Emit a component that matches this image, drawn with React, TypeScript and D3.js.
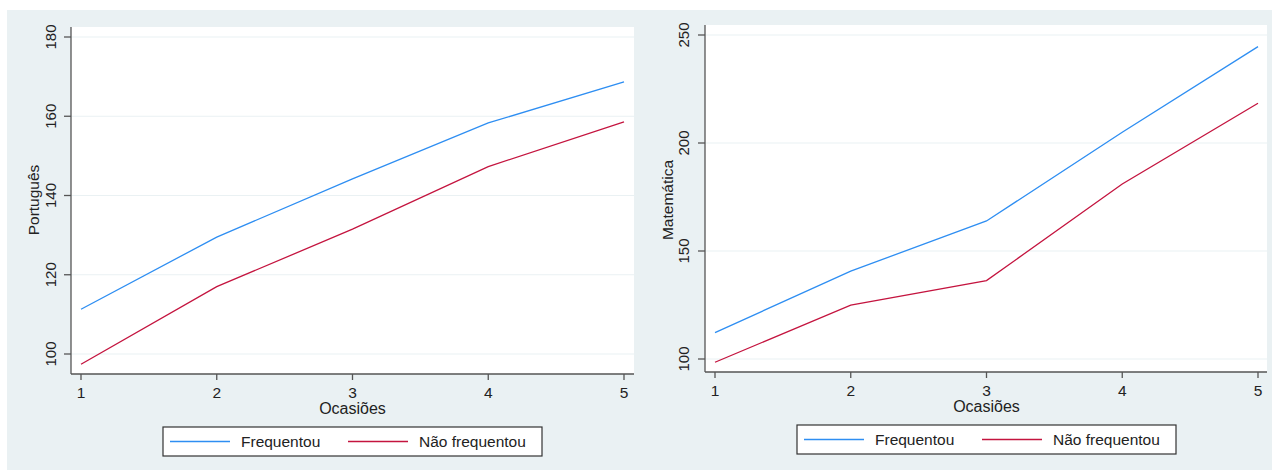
import React, { useRef, useEffect } from "react";
import * as d3 from "d3";

const ocasioes = [1, 2, 3, 4, 5];
const seriesNames = ["Frequentou", "Não frequentou"];
const portFreq = [111.3, 129.5, 144.2, 158.3, 168.7];
const portNao = [97.4, 117.0, 131.5, 147.3, 158.6];
const matFreq = [112.2, 140.7, 163.9, 205.0, 244.6];
const matNao = [98.5, 124.9, 136.3, 181.0, 218.4];
const portTicks = [100, 120, 140, 160, 180];
const matTicks = [100, 150, 200, 250];

const colors = ["#2e8ef2", "#c4143f"];
const bg = "#eaf1f3";
const font = "'Liberation Sans', Arial, sans-serif";

const panels = [
  {
    label: "Português",
    series: [portFreq, portNao],
    ticks: portTicks,
    yDomain: [100, 180],
    yRange: [354, 37],
    xRange: [81, 624],
    plot: { x0: 71, x1: 634, y0: 27, y1: 374 },
    labelX: 34,
    tickLabelX: 51,
    legend: { x0: 163, x1: 542, y0: 427, y1: 456 },
  },
  {
    label: "Matemática",
    series: [matFreq, matNao],
    ticks: matTicks,
    yDomain: [100, 250],
    yRange: [359, 35],
    xRange: [715, 1258],
    plot: { x0: 705, x1: 1267, y0: 25, y1: 372 },
    labelX: 668,
    tickLabelX: 684,
    legend: { x0: 797, x1: 1176, y0: 425, y1: 454 },
  },
];

export default function App() {
  const ref = useRef<SVGSVGElement | null>(null);

  useEffect(() => {
    const svg = d3.select(ref.current);
    svg.selectAll("*").remove();

    svg
      .append("rect")
      .attr("x", 7)
      .attr("y", 10)
      .attr("width", 1265)
      .attr("height", 460)
      .attr("fill", bg);

    panels.forEach((p) => {
      const x = d3.scaleLinear().domain([1, 5]).range(p.xRange);
      const y = d3.scaleLinear().domain(p.yDomain).range(p.yRange);
      const g = svg.append("g").style("font-family", font);

      // plot area
      g.append("rect")
        .attr("x", p.plot.x0)
        .attr("y", p.plot.y0)
        .attr("width", p.plot.x1 - p.plot.x0)
        .attr("height", p.plot.y1 - p.plot.y0)
        .attr("fill", "#fff");

      // gridlines
      g.selectAll(".grid")
        .data(p.ticks)
        .join("line")
        .attr("x1", p.plot.x0)
        .attr("x2", p.plot.x1)
        .attr("y1", (d) => y(d))
        .attr("y2", (d) => y(d))
        .attr("stroke", bg)
        .attr("stroke-width", 1.2);

      // y axis
      g.append("line")
        .attr("x1", p.plot.x0)
        .attr("x2", p.plot.x0)
        .attr("y1", p.plot.y0)
        .attr("y2", p.plot.y1)
        .attr("stroke", "#555")
        .attr("stroke-width", 1.3);
      const yt = g.selectAll(".yt").data(p.ticks).join("g")
        .attr("transform", (d) => `translate(0,${y(d)})`);
      yt.append("line")
        .attr("x1", p.plot.x0 - 7)
        .attr("x2", p.plot.x0)
        .attr("stroke", "#555")
        .attr("stroke-width", 1.3);
      yt.append("text")
        .attr("transform", `translate(${p.tickLabelX + 5},0) rotate(-90)`)
        .attr("text-anchor", "middle")
        .attr("font-size", 15)
        .attr("fill", "#222")
        .text((d) => d);

      // x axis
      g.append("line")
        .attr("x1", p.plot.x0)
        .attr("x2", p.plot.x1)
        .attr("y1", p.plot.y1)
        .attr("y2", p.plot.y1)
        .attr("stroke", "#555")
        .attr("stroke-width", 1.3);
      const xt = g.selectAll(".xt").data(ocasioes).join("g")
        .attr("transform", (d) => `translate(${x(d)},${p.plot.y1})`);
      xt.append("line")
        .attr("y2", 6)
        .attr("stroke", "#555")
        .attr("stroke-width", 1.3);
      xt.append("text")
        .attr("y", 24)
        .attr("text-anchor", "middle")
        .attr("font-size", 15.5)
        .attr("fill", "#222")
        .text((d) => d);

      g.append("text")
        .attr("x", x(3))
        .attr("y", p.plot.y1 + 40)
        .attr("text-anchor", "middle")
        .attr("font-size", 16)
        .attr("fill", "#222")
        .text("Ocasiões");

      g.append("text")
        .attr("transform", `translate(${p.labelX + 5},200) rotate(-90)`)
        .attr("text-anchor", "middle")
        .attr("font-size", 15.5)
        .attr("fill", "#222")
        .text(p.label);

      // lines
      const line = d3
        .line<number>()
        .x((_, i) => x(ocasioes[i]))
        .y((d) => y(d));
      p.series.forEach((s, i) => {
        g.append("path")
          .attr("d", line(s))
          .attr("fill", "none")
          .attr("stroke", colors[i])
          .attr("stroke-width", 1.3);
      });

      // legend
      const L = p.legend;
      g.append("rect")
        .attr("x", L.x0)
        .attr("y", L.y0)
        .attr("width", L.x1 - L.x0)
        .attr("height", L.y1 - L.y0)
        .attr("fill", "#fff")
        .attr("stroke", "#333")
        .attr("stroke-width", 1.2);
      const cy = (L.y0 + L.y1) / 2;
      const offsets = [7, 185];
      seriesNames.forEach((name, i) => {
        const lx = L.x0 + offsets[i];
        g.append("line")
          .attr("x1", lx)
          .attr("x2", lx + 60)
          .attr("y1", cy)
          .attr("y2", cy)
          .attr("stroke", colors[i])
          .attr("stroke-width", 1.3);
        g.append("text")
          .attr("x", lx + 71)
          .attr("y", cy + 5.5)
          .attr("font-size", 15.5)
          .attr("fill", "#222")
          .text(name);
      });
    });
  }, []);

  return (
    <svg
      ref={ref}
      width={1272}
      height={470}
      style={{ position: "absolute", left: 0, top: 0, background: "#fff" }}
    />
  );
}
